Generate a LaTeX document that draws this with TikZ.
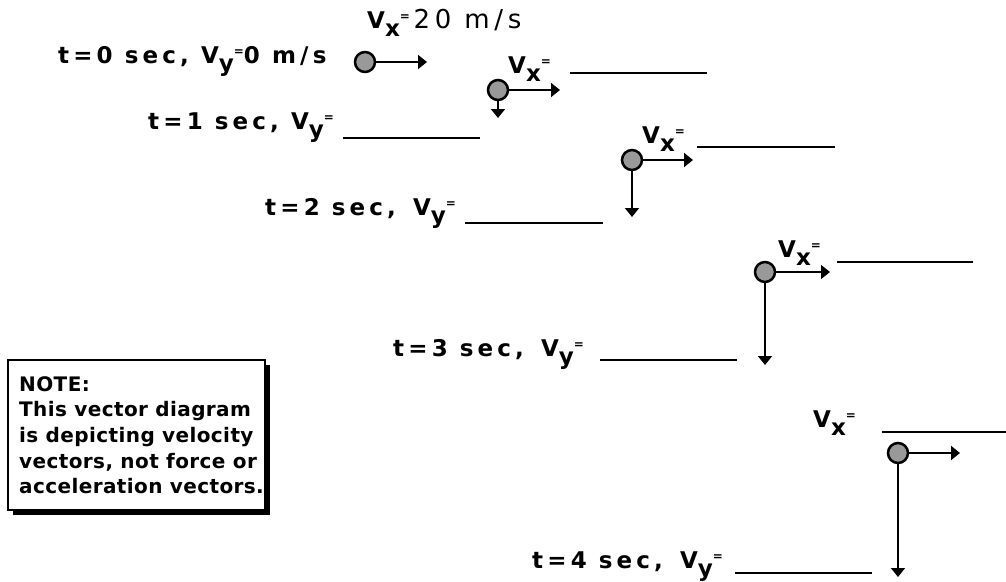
\documentclass[tikz,border=0pt]{standalone}
\usepackage{fontspec}
\usepackage{tikz}
\usetikzlibrary{arrows.meta}

\newfontfamily\pixfont{DejaVu Sans}[LetterSpace=18]
\newfontfamily\notefont{DejaVu Sans}[LetterSpace=2]

\begin{document}
\begin{tikzpicture}[x=1pt,y=-1pt]

\definecolor{ballgray}{rgb}{0.60, 0.60, 0.60}


\newcommand{\VelLabel}[1]{%
  V\raisebox{-8pt}{#1}\raisebox{8pt}{\fontsize{12}{12}\selectfont=}%
}

\tikzset{
  ball/.style={circle, draw, line width=2.5pt, fill=ballgray, minimum size=20pt, inner sep=0pt},
  vec/.style={line width=1.8pt, -{Triangle[length=9pt,width=14pt]}},
  blank/.style={line width=1.5pt},
  lbl/.style={anchor=base west, inner sep=0pt, font=\pixfont\bfseries\fontsize{23}{23}\selectfont},
}

\useasboundingbox (0,0) rectangle (1006,581);

% the ball, one second apart
\node[ball] (b0) at (365,62) {};
\node[ball] (b1) at (498,90) {};
\node[ball] (b2) at (632,160) {};
\node[ball] (b3) at (765,272) {};
\node[ball] (b4) at (898,453) {};

\coordinate (b0x) at (427,62);
\coordinate (b1x) at (560,90);
\coordinate (b2x) at (693,160);
\coordinate (b3x) at (830,272);
\coordinate (b4x) at (960,453);

\coordinate (b1y) at (498,118);
\coordinate (b2y) at (632,217);
\coordinate (b3y) at (765,365);
\coordinate (b4y) at (898,577);

\draw[vec] (b0.east) -- (b0x);
\draw[vec] (b1.east) -- (b1x);
\draw[vec] (b2.east) -- (b2x);
\draw[vec] (b3.east) -- (b3x);
\draw[vec] (b4.east) -- (b4x);

\draw[vec] (b1.south) -- (b1y);
\draw[vec] (b2.south) -- (b2y);
\draw[vec] (b3.south) -- (b3y);
\draw[vec] (b4.south) -- (b4y);

% labels
\node[lbl] (vx0) at (367,28) {\VelLabel{x}\,{\mdseries\fontsize{26}{26}\selectfont 20 m/s}};
\node[lbl] (t0) at (58,63) {t=0 sec, \VelLabel{y}0 m/s};

\node[lbl] (vx1) at (508,73) {\VelLabel{x}};
\node[lbl] (t1) at (148,129) {t=1 sec, \VelLabel{y}};

\node[lbl] (vx2) at (642,143) {\VelLabel{x}};
\node[lbl] (t2) at (265,215) {t=2 sec,\hspace{5pt} \VelLabel{y}};

\node[lbl] (vx3) at (778,257) {\VelLabel{x}};
\node[lbl] (t3) at (393,356) {t=3 sec,\hspace{5pt} \VelLabel{y}};

\node[lbl] (vx4) at (813,427) {\VelLabel{x}};
\node[lbl] (t4) at (532,568) {t=4 sec,\hspace{5pt} \VelLabel{y}};

% blanks to fill in
\draw[blank] (570,73) -- (707,73);
\draw[blank] (697,147) -- (835,147);
\draw[blank] (837,262) -- (973,262);
\draw[blank] (882,432) -- (1006,432);

\draw[blank] (343,138) -- (480,138);
\draw[blank] (465,223) -- (603,223);
\draw[blank] (600,360) -- (737,360);
\draw[blank] (735,573) -- (872,573);

% note box
\fill (13,365) rectangle (270,515);
\draw[line width=2pt, fill=white] (8,360) rectangle (265,510);
\node[anchor=north west, inner sep=0pt, align=left,
      font=\notefont\bfseries\fontsize{20}{25.7}\selectfont] (note) at (19,376)
  {NOTE:\\This vector diagram\\is depicting velocity\\vectors, not force or\\acceleration vectors.};

\end{tikzpicture}
\end{document}
